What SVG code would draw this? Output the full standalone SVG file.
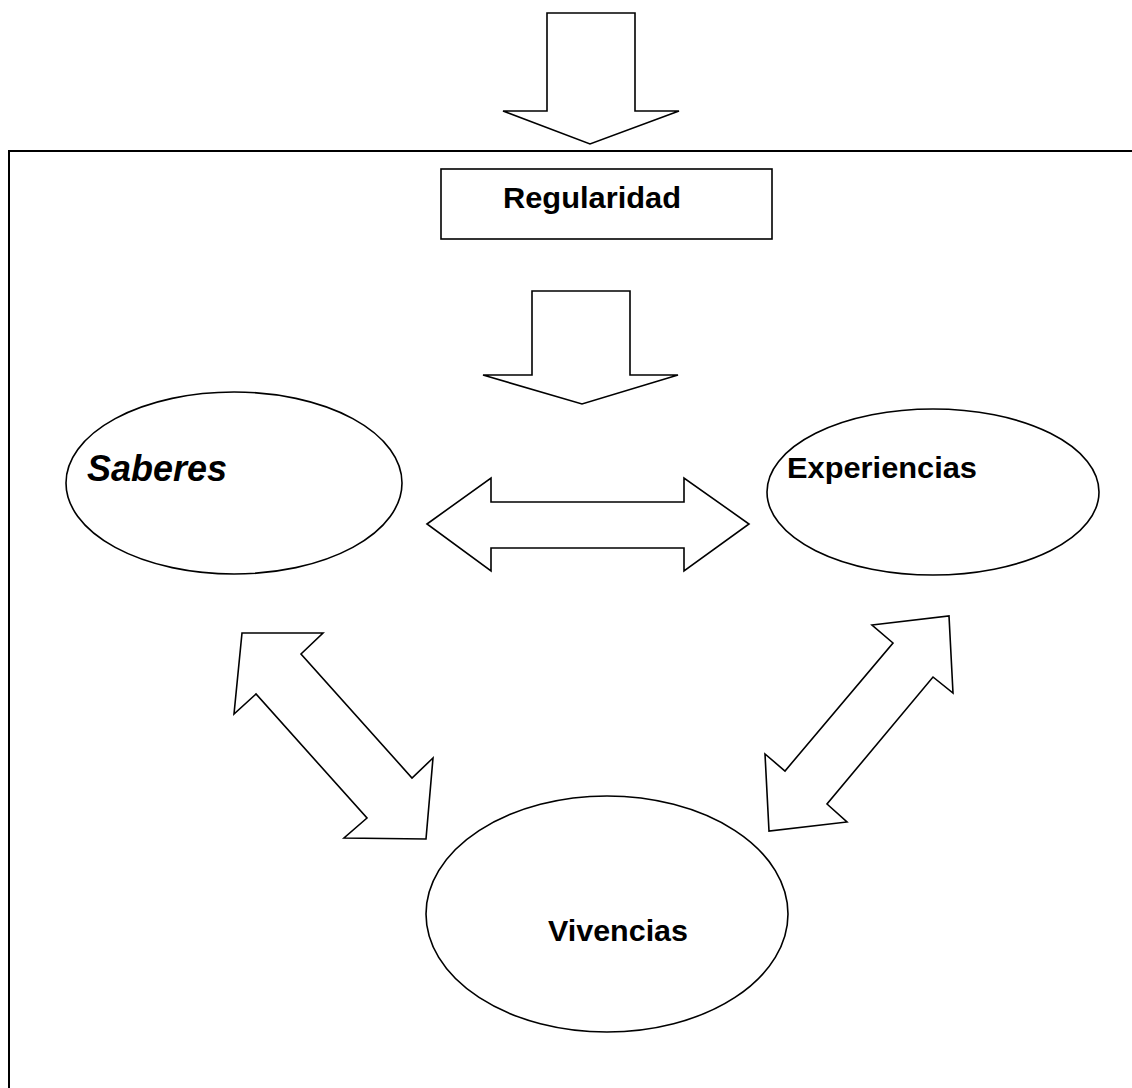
<svg xmlns="http://www.w3.org/2000/svg" width="1132" height="1088" viewBox="0 0 1132 1088">
  <style>
    .shape { fill: #ffffff; stroke: #000000; stroke-width: 1.6; stroke-linejoin: miter; }
    .frame { fill: none; stroke: #000000; stroke-width: 2; }
    .label { font-family: "Liberation Sans", Arial, sans-serif; font-weight: bold; fill: #000000; }
  </style>
  <rect width="1132" height="1088" fill="#ffffff"/>

  <!-- outer frame: top and left edges only -->
  <path class="frame" d="M9,1088 V151 H1132"/>

  <!-- block arrow entering the frame -->
  <g id="arrow-in">
    <polygon class="shape" points="547,13 635,13 635,111 679,111 590,144 503,111 547,111"/>
  </g>

  <g id="regularidad">
    <rect class="shape" x="441" y="169" width="331" height="70"/>
    <text class="label" x="503" y="208" font-size="30" textLength="178" lengthAdjust="spacingAndGlyphs">Regularidad</text>
  </g>

  <g id="saberes">
    <ellipse class="shape" cx="234" cy="483" rx="168" ry="91"/>
    <text class="label" x="87" y="481" font-size="36" font-style="italic" textLength="140" lengthAdjust="spacingAndGlyphs">Saberes</text>
  </g>

  <g id="experiencias">
    <ellipse class="shape" cx="933" cy="492" rx="166" ry="83"/>
    <text class="label" x="787" y="478" font-size="30" textLength="190" lengthAdjust="spacingAndGlyphs">Experiencias</text>
  </g>

  <g id="vivencias">
    <ellipse class="shape" cx="607" cy="914" rx="181" ry="118"/>
    <text class="label" x="548" y="941" font-size="30" textLength="140" lengthAdjust="spacingAndGlyphs">Vivencias</text>
  </g>

  <g id="connectors">
    <!-- Regularidad to the three nodes -->
    <polygon class="shape" points="532,291 630,291 630,375 678,375 582,404 483,375 532,375"/>
    <!-- Saberes <-> Experiencias -->
    <polygon class="shape" points="427,524 491,478 491,502 684,502 684,478 749,524 684,571 684,548 491,548 491,571"/>
    <!-- Saberes <-> Vivencias -->
    <polygon class="shape" points="242,633 323,633 301,654 412,778 433,758 426,839 344,838 367,818 256,694 234,714"/>
    <!-- Experiencias <-> Vivencias -->
    <polygon class="shape" points="872,625 949,616 953,693 933,677 827,804 847,822 769,831 765,754 785,771 893,643"/>
  </g>
</svg>
